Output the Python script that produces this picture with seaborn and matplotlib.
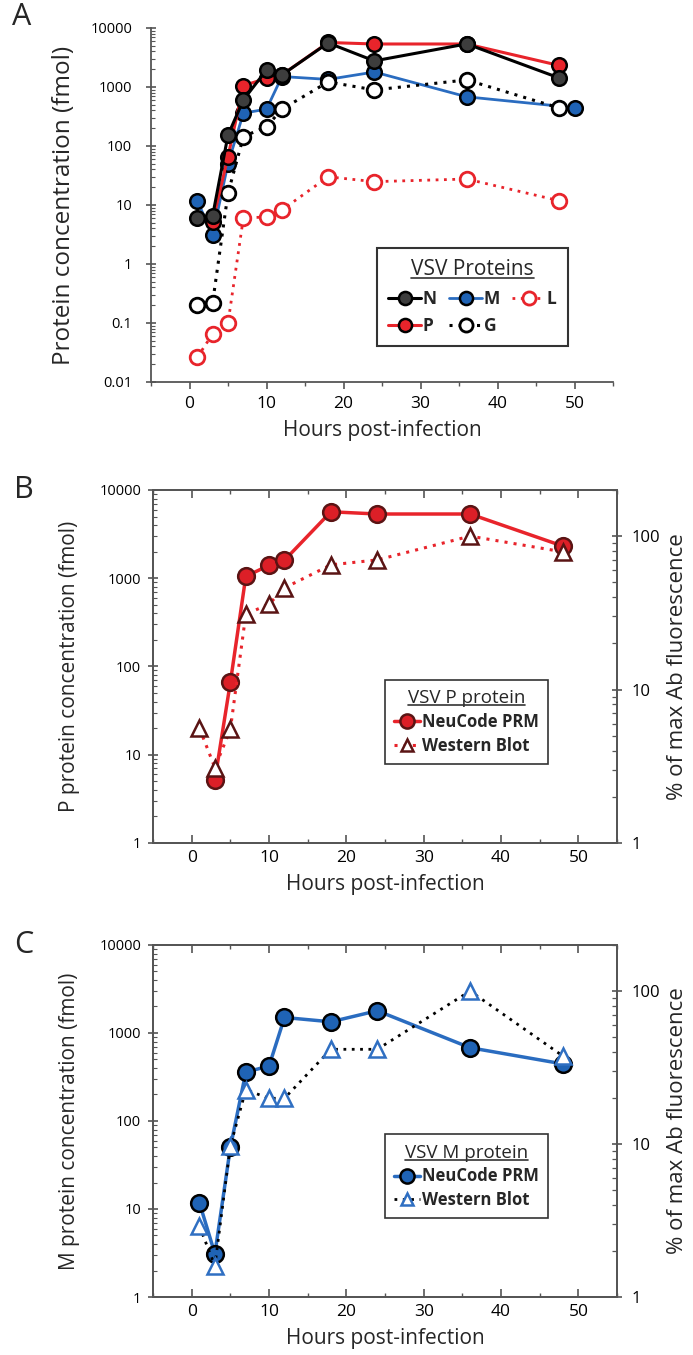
import numpy as np
import matplotlib
matplotlib.use("Agg")
import matplotlib.pyplot as plt
import seaborn as sns
from matplotlib import ticker

# ---- data ----
hours = [1, 3, 5, 7, 10, 12, 18, 24, 36, 48]
hours_m_a = [1, 3, 5, 7, 10, 12, 18, 24, 36, 50]
hours_p = [3, 5, 7, 10, 12, 18, 24, 36, 48]

N_fmol = [6.0, 6.5, 153, 605, 1940, 1600, 5570, 2760, 5360, 1420]
P_fmol = [5.2, 66, 1050, 1400, 1600, 5660, 5340, 5340, 2310]
M_fmol = [11.8, 3.1, 50, 360, 420, 1500, 1340, 1790, 680, 445]
G_fmol = [0.20, 0.22, 15.8, 144, 212, 419, 1215, 890, 1315, 440]
L_fmol = [0.026, 0.065, 0.10, 6.1, 6.2, 8.2, 30, 24.8, 27.5, 11.8]

P_western = [5.6, 3.1, 5.5, 31, 36, 46, 65, 70, 100, 79]
M_western = [2.9, 1.6, 9.7, 22.6, 19.9, 19.9, 41.6, 41.6, 100, 37.6]

sns.set_style("ticks")
plt.rcParams["font.family"] = ["Open Sans", "DejaVu Sans"]
plt.rcParams["axes.edgecolor"] = "#555555"
plt.rcParams["xtick.color"] = "#555555"
plt.rcParams["ytick.color"] = "#555555"
plt.rcParams["xtick.labelcolor"] = "black"
plt.rcParams["ytick.labelcolor"] = "black"

RED = "#e8242b"
BLUE = "#1f63b5"
DARK = "#3d3d3d"
MAROON = "#5a1414"
DOT = (0, (1, 2))

fig = plt.figure(figsize=(6.93, 13.55), dpi=100)
axA = fig.add_axes([0.2179, 0.7181, 0.6667, 0.2613])
axB = fig.add_axes([0.2208, 0.3779, 0.6696, 0.2605])
axC = fig.add_axes([0.2208, 0.0428, 0.6696, 0.2598])


def style_left(ax, lo, hi, full_box, ypad):
    ax.set_yscale("log")
    ax.set_ylim(lo, hi)
    ax.set_xlim(-5, 55)
    ax.xaxis.set_major_locator(ticker.MultipleLocator(10))
    ax.xaxis.set_minor_locator(ticker.MultipleLocator(5))
    ax.yaxis.set_major_locator(ticker.LogLocator(base=10, numticks=20))
    ax.yaxis.set_minor_locator(ticker.LogLocator(base=10, subs=np.arange(2, 10), numticks=20))
    ax.yaxis.set_major_formatter(ticker.FuncFormatter(lambda v, p: "%g" % v))
    ax.yaxis.set_minor_formatter(ticker.NullFormatter())
    ax.tick_params(axis="x", which="major", direction="out", length=5, width=1.2, labelsize=12.5,
                   pad=5)
    ax.tick_params(axis="x", which="minor", direction="out", length=3, width=1.0)
    ax.tick_params(axis="y", which="major", direction="inout", length=7, width=1.2, labelsize=10.5,
                   pad=ypad)
    ax.tick_params(axis="y", which="minor", direction="in", length=3, width=0.8)
    for s in ax.spines.values():
        s.set_linewidth(1.3)
    if full_box:
        ax.tick_params(axis="x", which="both", top=True, direction="in")
        ax.tick_params(axis="x", which="major", bottom=True, length=6)
    else:
        ax.spines["top"].set_visible(False)
        ax.spines["right"].set_visible(False)
    ax.set_xlabel("Hours post-infection", fontsize=15, labelpad=6)


def underline_title(leg):
    fig.canvas.draw()
    bb = leg.get_title().get_window_extent()
    inv = fig.transFigure.inverted()
    (x0, y0), (x1, _) = inv.transform([(bb.x0, bb.y0 + 2), (bb.x1, bb.y0 + 2)])
    fig.add_artist(plt.Line2D([x0, x1], [y0, y0], color="#333333", lw=1.2,
                              transform=fig.transFigure))


# ---- Panel A ----
style_left(axA, 0.01, 10000, full_box=False, ypad=10)
ms = 10.5
sns.lineplot(x=hours, y=L_fmol, ax=axA, color=RED, lw=2, linestyle=DOT, marker="o",
             markersize=ms, markerfacecolor="white", markeredgecolor=RED, markeredgewidth=2,
             label="L", errorbar=None)
sns.lineplot(x=hours_m_a, y=M_fmol, ax=axA, color="#2a6cc0", lw=2, marker="o",
             markersize=ms, markerfacecolor=BLUE, markeredgecolor="black", markeredgewidth=1.8,
             label="M", errorbar=None)
sns.lineplot(x=hours, y=G_fmol, ax=axA, color="black", lw=2.2, linestyle=DOT, marker="o",
             markersize=ms, markerfacecolor="white", markeredgecolor="black", markeredgewidth=2,
             label="G", errorbar=None)
sns.lineplot(x=hours_p, y=P_fmol, ax=axA, color=RED, lw=2.2, marker="o",
             markersize=ms, markerfacecolor=RED, markeredgecolor="black", markeredgewidth=1.8,
             label="P", errorbar=None)
sns.lineplot(x=hours, y=N_fmol, ax=axA, color="black", lw=2.2, marker="o",
             markersize=ms, markerfacecolor=DARK, markeredgecolor="black", markeredgewidth=1.8,
             label="N", errorbar=None)
for ln in axA.get_lines():
    ln.set_clip_on(False)
axA.set_ylabel("Protein concentration (fmol)", fontsize=17.5, labelpad=10)
hA = {ln.get_label(): ln for ln in axA.get_lines()}
legA = axA.legend([hA[k] for k in ["N", "P", "M", "G", "L"]], ["N", "P", "M", "G", "L"],
                  title="VSV Proteins", ncol=3, loc="upper left", bbox_to_anchor=(0.489, 0.379),
                  borderaxespad=0, frameon=True, fancybox=False, edgecolor="#333333", framealpha=1,
                  prop={"weight": "bold", "size": 12.5}, title_fontsize=15,
                  handlelength=1.9, handletextpad=0.1, columnspacing=0.7, borderpad=0.65,
                  labelspacing=0.55, markerscale=0.9)
legA.get_frame().set_linewidth(1.5)
axA.text(-0.3, 1.03, "A", transform=axA.transAxes, fontsize=22, va="center", ha="left")

# ---- Panel B ----
style_left(axB, 1, 10000, full_box=True, ypad=5)
axB2 = axB.twinx()
sns.lineplot(x=hours_p, y=P_fmol, ax=axB, color=RED, lw=2.5, marker="o", markersize=12,
             markerfacecolor="#dc1f27", markeredgecolor=MAROON, markeredgewidth=1.8,
             label="NeuCode PRM", errorbar=None, legend=False)
sns.lineplot(x=hours, y=P_western, ax=axB2, color=RED, lw=2.2, linestyle=DOT, marker="^",
             markersize=11, markerfacecolor="white", markeredgecolor=MAROON, markeredgewidth=1.8,
             label="Western Blot", errorbar=None, legend=False)
axB.set_ylabel("P protein concentration (fmol)", fontsize=15, labelpad=14)

# ---- Panel C ----
style_left(axC, 1, 10000, full_box=True, ypad=5)
axC2 = axC.twinx()
sns.lineplot(x=hours, y=M_fmol, ax=axC, color="#2a6cc0", lw=2.5, marker="o", markersize=12,
             markerfacecolor=BLUE, markeredgecolor="black", markeredgewidth=1.8,
             label="NeuCode PRM", errorbar=None, legend=False)
sns.lineplot(x=hours, y=M_western, ax=axC2, color="black", lw=2.0, linestyle=DOT, marker="^",
             markersize=11, markerfacecolor="white", markeredgecolor="#2f6fc2", markeredgewidth=1.8,
             label="Western Blot", errorbar=None, legend=False)
axC.set_ylabel("M protein concentration (fmol)", fontsize=15, labelpad=14)

for ax, ax2, ttl, letter in [(axB, axB2, "VSV P protein", "B"), (axC, axC2, "VSV M protein", "C")]:
    ax2.set_yscale("log")
    ax2.set_ylim(1, 200)
    ax2.set_xlim(-5, 55)
    ax2.yaxis.set_major_locator(ticker.FixedLocator([1, 10, 100]))
    ax2.yaxis.set_minor_locator(ticker.LogLocator(base=10, subs=np.arange(2, 10), numticks=20))
    ax2.yaxis.set_major_formatter(ticker.FuncFormatter(lambda v, p: "%g" % v))
    ax2.yaxis.set_minor_formatter(ticker.NullFormatter())
    ax2.tick_params(axis="y", which="major", direction="inout", length=7, width=1.2, labelsize=12,
                    pad=7)
    ax2.tick_params(axis="y", which="minor", direction="in", length=3.5, width=0.9)
    for s in ax2.spines.values():
        s.set_linewidth(1.3)
    ax2.set_ylabel("% of max Ab fluorescence", fontsize=16, labelpad=5)
    for ln in ax.get_lines() + ax2.get_lines():
        ln.set_clip_on(False)
    handles = [ax.get_lines()[0], ax2.get_lines()[0]]
    leg = ax2.legend(handles, ["NeuCode PRM", "Western Blot"], title=ttl, loc="upper left",
                     bbox_to_anchor=(0.499, 0.462), borderaxespad=0, frameon=True, fancybox=False,
                     edgecolor="#333333", framealpha=1, prop={"weight": "bold", "size": 12},
                     title_fontsize=13.5, handlelength=1.6, handletextpad=0.1, borderpad=0.55,
                     labelspacing=0.35, markerscale=0.85)
    leg.get_frame().set_linewidth(1.2)
    ax.text(-0.3, 1.0, letter, transform=ax.transAxes, fontsize=22, va="center", ha="left")

for lg in [legA, axB2.get_legend(), axC2.get_legend()]:
    underline_title(lg)

fig.savefig("out.png", dpi=100)
